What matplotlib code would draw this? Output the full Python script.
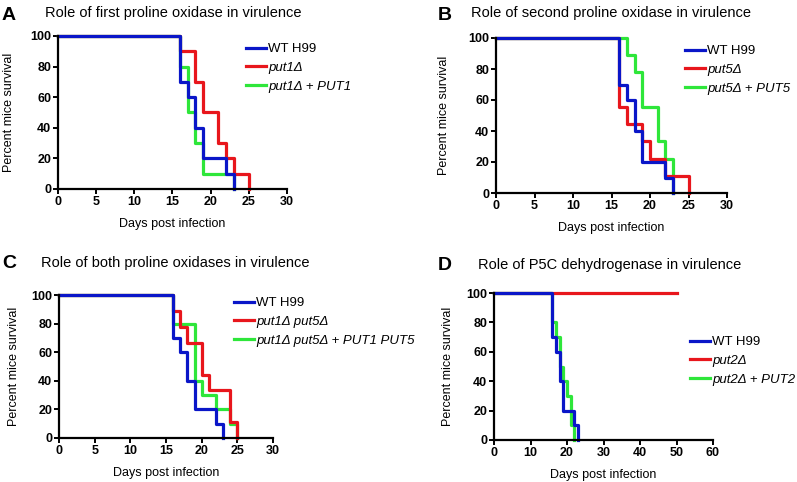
import matplotlib.pyplot as plt

plt.rcParams['font.family'] = ['Liberation Sans', 'DejaVu Sans']

BLUE = '#0a16c8'
RED = '#e8161c'
GREEN = '#2ee63a'

# survival curves: (days, percent survival)
wt_days = [0, 16, 17, 18, 19, 22, 23]
wt_surv = [100, 70, 60, 40, 20, 10, 0]

put1_days = [0, 16, 18, 19, 21, 22, 23, 25]
put1_surv = [100, 90, 70, 50, 30, 20, 10, 0]
put1c_days = [0, 16, 17, 18, 19, 23]
put1c_surv = [100, 80, 50, 30, 10, 0]

put5_days = [0, 16, 17, 19, 20, 22, 25]
put5_surv = [100, 55.6, 44.4, 33.3, 22.2, 11.1, 0]
put5c_days = [0, 17, 18, 19, 21, 22, 23]
put5c_surv = [100, 88.9, 77.8, 55.6, 33.3, 22.2, 0]

dbl_days = [0, 16, 17, 18, 20, 21, 24, 25]
dbl_surv = [100, 88.9, 77.8, 66.7, 44.4, 33.3, 11.1, 0]
dblc_days = [0, 16, 19, 20, 22, 24, 25]
dblc_surv = [100, 80, 40, 30, 20, 10, 0]

put2_days = [0, 50]
put2_surv = [100, 100]
put2c_days = [0, 16, 17, 18, 19, 20, 21, 22]
put2c_surv = [100, 80, 70, 50, 40, 30, 10, 0]

W, H = 797, 482
fig = plt.figure(figsize=(W / 100, H / 100), dpi=100)


def px_axes(x0, x1, ytop, ybot):
    return fig.add_axes([x0 / W, 1 - ybot / H, (x1 - x0) / W, (ybot - ytop) / H])


panels = [
    dict(letter='A', title='Role of first proline oxidase in virulence',
         box=(58, 287, 36, 189), xmax=30, xstep=5, letter_xy=(2, 7), title_xy=(45, 6),
         leg=(246, 43), ypad=11,
         series=[(put1c_days, put1c_surv, GREEN), (put1_days, put1_surv, RED), (wt_days, wt_surv, BLUE)],
         labels=['WT H99', 'put1Δ', 'put1Δ + PUT1']),
    dict(letter='B', title='Role of second proline oxidase in virulence',
         box=(496, 727, 38, 193), xmax=30, xstep=5, letter_xy=(438, 7), title_xy=(471, 6),
         leg=(685, 45), ypad=13,
         series=[(put5c_days, put5c_surv, GREEN), (put5_days, put5_surv, RED), (wt_days, wt_surv, BLUE)],
         labels=['WT H99', 'put5Δ', 'put5Δ + PUT5']),
    dict(letter='C', title='Role of both proline oxidases in virulence',
         box=(59, 273, 295, 438), xmax=30, xstep=5, letter_xy=(2, 255), title_xy=(41, 256),
         leg=(234, 297), ypad=8,
         series=[(dblc_days, dblc_surv, GREEN), (dbl_days, dbl_surv, RED), (wt_days, wt_surv, BLUE)],
         labels=['WT H99', 'put1Δ put5Δ', 'put1Δ put5Δ + PUT1 PUT5']),
    dict(letter='D', title='Role of P5C dehydrogenase in virulence',
         box=(494, 713, 293, 440), xmax=60, xstep=10, letter_xy=(438, 257), title_xy=(478, 258),
         leg=(690, 336), ypad=9,
         series=[(put2c_days, put2c_surv, GREEN), (put2_days, put2_surv, RED), (wt_days, wt_surv, BLUE)],
         labels=['WT H99', 'put2Δ', 'put2Δ + PUT2']),
]

for p in panels:
    ax = px_axes(*p['box'])
    lines = {}
    for days, surv, col in p['series']:
        ln, = ax.step(days, surv, where='post', color=col, lw=2.3, clip_on=False)
        lines[col] = ln
    ax.set_xlim(0, p['xmax'])
    ax.set_ylim(0, 100)
    ax.set_xticks(range(0, p['xmax'] + 1, p['xstep']))
    ax.set_yticks(range(0, 101, 20))
    for s in ['top', 'right']:
        ax.spines[s].set_visible(False)
    for s in ['left', 'bottom']:
        ax.spines[s].set_linewidth(1.6)
    ax.tick_params(width=1.4, length=3.5, labelsize=9, pad=1.5)
    for lab in ax.get_xticklabels() + ax.get_yticklabels():
        lab.set_fontweight('bold')
    ax.set_xlabel('Days post infection', fontsize=9, labelpad=7)
    ax.set_ylabel('Percent mice survival', fontsize=9, labelpad=p['ypad'])

    lx, ly = p['leg']
    leg = ax.legend([lines[BLUE], lines[RED], lines[GREEN]], p['labels'],
                    loc='upper left', bbox_to_anchor=(lx / W, 1 - ly / H),
                    bbox_transform=fig.transFigure, frameon=False, fontsize=9.5,
                    handlelength=1.5, handletextpad=0.2, borderpad=0,
                    borderaxespad=0, labelspacing=0.5)
    for t in leg.get_texts()[1:]:
        t.set_style('italic')

    fig.text(p['letter_xy'][0] / W, 1 - p['letter_xy'][1] / H, p['letter'],
             fontsize=14, fontweight='bold', va='top', ha='left')
    fig.text(p['title_xy'][0] / W, 1 - p['title_xy'][1] / H, p['title'],
             fontsize=10.5, va='top', ha='left')

fig.savefig('out.png', dpi=100)
